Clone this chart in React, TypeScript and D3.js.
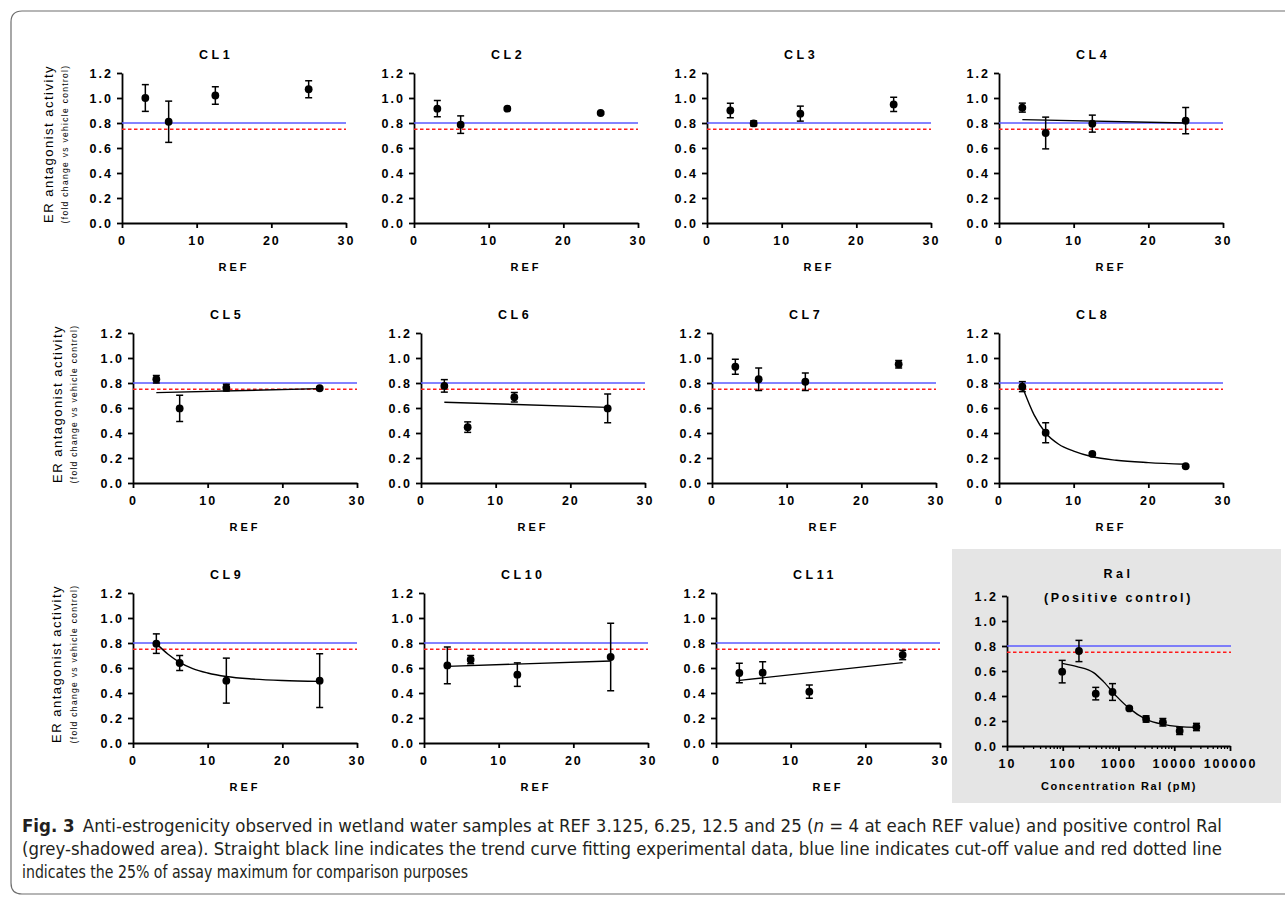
import React, { useEffect, useRef } from 'react';
import * as d3 from 'd3';

const refLevels = [3.125, 6.25, 12.5, 25];
const xTicks = [0, 10, 20, 30];
const yTicks = [0, 0.2, 0.4, 0.6, 0.8, 1.0, 1.2];
const cutOff = 0.8;
const quarterMax = 0.75;

const panelNames = ['CL1', 'CL2', 'CL3', 'CL4', 'CL5', 'CL6', 'CL7', 'CL8', 'CL9', 'CL10', 'CL11'];
const panelMeans = [
  [1.0, 0.81, 1.02, 1.07],
  [0.915, 0.787, 0.915, 0.88],
  [0.9, 0.797, 0.875, 0.949],
  [0.923, 0.72, 0.795, 0.819],
  [0.83, 0.597, 0.763, 0.758],
  [0.777, 0.447, 0.686, 0.597],
  [0.93, 0.83, 0.81, 0.95],
  [0.771, 0.402, 0.233, 0.134],
  [0.795, 0.64, 0.499, 0.499],
  [0.621, 0.667, 0.547, 0.688],
  [0.56, 0.563, 0.411, 0.704],
];
const panelErrors = [
  [0.107, 0.165, 0.07, 0.068],
  [0.065, 0.07, 0.01, 0.01],
  [0.058, 0.02, 0.06, 0.057],
  [0.036, 0.127, 0.068, 0.105],
  [0.03, 0.105, 0.027, 0.01],
  [0.05, 0.042, 0.038, 0.115],
  [0.06, 0.09, 0.07, 0.03],
  [0.04, 0.08, 0.01, 0.01],
  [0.078, 0.06, 0.18, 0.215],
  [0.147, 0.033, 0.094, 0.27],
  [0.078, 0.087, 0.053, 0.037],
];
// trend curves (null = none drawn)
const trendRef = [
  null, null, null,
  [3.125, 25],
  [3.125, 25],
  [3.125, 25],
  null,
  [3.125, 4.7, 6.25, 8, 10, 12.5, 15.7, 20, 25],
  [3.125, 4.7, 6.25, 8, 10, 12.5, 16, 20, 25],
  [3.125, 25],
  [3.125, 25],
];
const trendVal = [
  null, null, null,
  [0.827, 0.8],
  [0.723, 0.755],
  [0.646, 0.605],
  null,
  [0.77, 0.545, 0.4, 0.31, 0.255, 0.21, 0.182, 0.163, 0.15],
  [0.795, 0.71, 0.645, 0.595, 0.56, 0.532, 0.512, 0.5, 0.493],
  [0.613, 0.656],
  [0.501, 0.643],
];

const ralConc = [97.66, 195.3, 390.6, 781.25, 1562.5, 3125, 6250, 12500, 25000];
const ralMean = [0.595, 0.76, 0.419, 0.432, 0.301, 0.216, 0.19, 0.12, 0.152];
const ralErr = [0.09, 0.085, 0.05, 0.067, 0.01, 0.025, 0.03, 0.028, 0.029];
const ralFitConc = [97.66, 180, 357, 538, 933, 1562.5, 3125, 6250, 12500, 25000];
const ralFitVal = [0.661, 0.635, 0.587, 0.515, 0.395, 0.301, 0.213, 0.173, 0.155, 0.149];
const ralTicks = [10, 100, 1000, 10000, 100000];

const rowTops = [73, 333, 593];
const rowLefts = [[122, 414, 707, 999], [133, 421, 712, 999], [133, 424, 716]];
const yLabelBase = [[53, 68], [61.5, 77], [61, 77]];
const plotW = 224;
const plotH = 150;
const FONT = '"Liberation Sans", Arial, sans-serif';
const CAPTION_FONT = '"Liberation Sans Narrow", "DejaVu Sans Condensed", "Liberation Sans", sans-serif';

const styleAxis = (g) => {
  g.select('.domain').attr('stroke', '#000').attr('stroke-width', 1.8);
  g.selectAll('.tick line').attr('stroke', '#000').attr('stroke-width', 1.8);
  g.selectAll('.tick text')
    .attr('fill', '#000')
    .style('font-family', FONT)
    .style('font-size', '12.5px')
    .style('font-weight', 'bold')
    .style('letter-spacing', '2px');
};

const boldText = (sel, size, spacing) => sel
  .style('font-family', FONT)
  .style('font-size', `${size}px`)
  .style('font-weight', 'bold')
  .style('letter-spacing', `${spacing}px`)
  .attr('fill', '#000');

// one panel: axes, reference lines, trend, error bars and points
const drawPanel = (root, p) => {
  const g = root.append('g').attr('transform', `translate(${p.left}, ${p.top})`);
  const y = d3.scaleLinear().domain([0, 1.2]).range([plotH, 0]);
  const x = p.x;

  // y axis
  g.append('g')
    .call(d3.axisLeft(y).tickValues(yTicks).tickSize(5).tickSizeOuter(0).tickPadding(4)
      .tickFormat(d3.format('.1f')))
    .call(styleAxis);
  // x axis
  const xg = g.append('g')
    .attr('transform', `translate(0, ${plotH})`)
    .call(p.xAxis)
    .call(styleAxis);
  if (p.minor) {
    xg.selectAll('.minor')
      .data(p.minor)
      .enter()
      .append('line')
      .attr('x1', (d) => x(d))
      .attr('x2', (d) => x(d))
      .attr('y1', 0)
      .attr('y2', 3)
      .attr('stroke', '#000')
      .attr('stroke-width', 1.3);
  }

  // cut-off and 25% lines
  g.append('line')
    .attr('x1', 0).attr('x2', plotW)
    .attr('y1', y(cutOff)).attr('y2', y(cutOff))
    .attr('stroke', '#5a5aff')
    .attr('stroke-width', 1.4);
  g.append('line')
    .attr('x1', 0).attr('x2', plotW)
    .attr('y1', y(quarterMax)).attr('y2', y(quarterMax))
    .attr('stroke', '#ff1a1a')
    .attr('stroke-width', 1.5)
    .attr('stroke-dasharray', '3.5,2.5');

  // trend
  if (p.fitX) {
    const pts = p.fitX.map((d, i) => [x(d), y(p.fitY[i])]);
    g.append('path')
      .attr('d', d3.line().curve(d3.curveMonotoneX)(pts))
      .attr('fill', 'none')
      .attr('stroke', '#000')
      .attr('stroke-width', 1.4);
  }

  // error bars
  const bars = g.selectAll('.err')
    .data(p.xs.map((d, i) => ({ x: d, m: p.means[i], e: p.errs[i] })))
    .enter()
    .append('g')
    .attr('class', 'err');
  bars.append('line')
    .attr('x1', (d) => x(d.x)).attr('x2', (d) => x(d.x))
    .attr('y1', (d) => y(d.m - d.e)).attr('y2', (d) => y(d.m + d.e))
    .attr('stroke', '#000').attr('stroke-width', 1.5);
  [1, -1].forEach((s) => {
    bars.append('line')
      .attr('x1', (d) => x(d.x) - 3.5).attr('x2', (d) => x(d.x) + 3.5)
      .attr('y1', (d) => y(d.m + s * d.e)).attr('y2', (d) => y(d.m + s * d.e))
      .attr('stroke', '#000').attr('stroke-width', 1.5);
  });
  bars.append('circle')
    .attr('cx', (d) => x(d.x))
    .attr('cy', (d) => y(d.m))
    .attr('r', 3.9)
    .attr('fill', '#000');

  // titles
  p.title.forEach((t) => {
    g.append('text')
      .attr('x', t.x)
      .attr('y', t.y)
      .attr('text-anchor', t.anchor)
      .text(t.text)
      .call(boldText, 12.5, t.spacing);
  });
  g.append('text')
    .attr('x', plotW / 2)
    .attr('y', p.xLabelY)
    .attr('text-anchor', 'middle')
    .text(p.xLabel)
    .call(boldText, 11, p.xLabelSpacing);
};

const App = () => {
  const ref = useRef(null);

  useEffect(() => {
    const svg = d3.select(ref.current);
    svg.selectAll('*').remove();

    // frame
    svg.append('path')
      .attr('d', 'M1295,11 H22 Q11,11 11,22 V883 Q11,894 22,894 H1295')
      .attr('fill', 'none')
      .attr('stroke', '#6e6e6e')
      .attr('stroke-width', 1.2);

    // grey box for positive control
    svg.append('rect')
      .attr('x', 952).attr('y', 549)
      .attr('width', 329).attr('height', 254)
      .attr('fill', '#e5e5e5');

    const xRef = d3.scaleLinear().domain([0, 30]).range([0, plotW]);

    panelNames.forEach((name, i) => {
      const row = Math.floor(i / 4);
      const col = i % 4;
      drawPanel(svg, {
        left: rowLefts[row][col],
        top: rowTops[row],
        x: xRef,
        xAxis: d3.axisBottom(xRef).tickValues(xTicks).tickSize(5).tickSizeOuter(0).tickPadding(8),
        xs: refLevels,
        means: panelMeans[i],
        errs: panelErrors[i],
        fitX: trendRef[i],
        fitY: trendVal[i],
        title: [{ text: name, x: 77, y: -14, anchor: 'start', spacing: 3.5 }],
        xLabel: 'REF',
        xLabelY: plotH + 48,
        xLabelSpacing: 3,
      });
    });

    // y axis labels, one per row
    rowTops.forEach((top, r) => {
      const cy = top + 71;
      svg.append('text')
        .attr('transform', `translate(${yLabelBase[r][0]}, ${cy}) rotate(-90)`)
        .attr('text-anchor', 'middle')
        .style('font-family', FONT)
        .style('font-size', '13px')
        .style('letter-spacing', '1.5px')
        .attr('fill', '#000')
        .text('ER antagonist activity');
      svg.append('text')
        .attr('transform', `translate(${yLabelBase[r][1]}, ${cy}) rotate(-90)`)
        .attr('text-anchor', 'middle')
        .style('font-family', FONT)
        .style('font-size', '8.5px')
        .style('letter-spacing', '1.3px')
        .attr('fill', '#000')
        .text('(fold change vs vehicle control)');
    });

    // positive control, log axis
    const ralW = 223;
    const xLog = d3.scaleLog().domain([10, 100000]).range([0, ralW]);
    const minor = [];
    ralTicks.slice(0, -1).forEach((d) => {
      d3.range(2, 10).forEach((m) => minor.push(d * m));
    });
    drawPanel(svg, {
      left: 1007,
      top: 596,
      x: xLog,
      xAxis: d3.axisBottom(xLog).tickValues(ralTicks).tickSize(5).tickSizeOuter(0).tickPadding(8)
        .tickFormat(d3.format('d')),
      minor,
      xs: ralConc,
      means: ralMean,
      errs: ralErr,
      fitX: ralFitConc,
      fitY: ralFitVal,
      title: [
        { text: 'Ral', x: ralW / 2, y: -18, anchor: 'middle', spacing: 3.5 },
        { text: '(Positive control)', x: ralW / 2, y: 6, anchor: 'middle', spacing: 2.6 },
      ],
      xLabel: 'Concentration Ral (pM)',
      xLabelY: plotH + 44,
      xLabelSpacing: 1.6,
    });

    // caption
    const cap = svg.append('g')
      .style('font-family', CAPTION_FONT)
      .style('font-size', '18px')
      .attr('fill', '#231f20');
    const l1 = cap.append('text')
      .attr('x', 22).attr('y', 832)
      .attr('textLength', 1200)
      .attr('lengthAdjust', 'spacingAndGlyphs');
    l1.append('tspan').style('font-weight', 'bold').text('Fig. 3');
    l1.append('tspan').attr('dx', 8).text('Anti-estrogenicity observed in wetland water samples at REF 3.125, 6.25, 12.5 and 25 (');
    l1.append('tspan').style('font-style', 'italic').text('n');
    l1.append('tspan').text(' = 4 at each REF value) and positive control Ral');
    cap.append('text')
      .attr('x', 22).attr('y', 855)
      .attr('textLength', 1200)
      .attr('lengthAdjust', 'spacingAndGlyphs')
      .text('(grey-shadowed area). Straight black line indicates the trend curve fitting experimental data, blue line indicates cut-off value and red dotted line');
    cap.append('text')
      .attr('x', 22).attr('y', 878)
      .attr('textLength', 446)
      .attr('lengthAdjust', 'spacingAndGlyphs')
      .text('indicates the 25% of assay maximum for comparison purposes');
  }, []);

  return (
    <svg
      ref={ref}
      width={1285}
      height={900}
      style={{ position: 'absolute', left: 0, top: 0, background: '#fff' }}
    />
  );
};

export default App;
